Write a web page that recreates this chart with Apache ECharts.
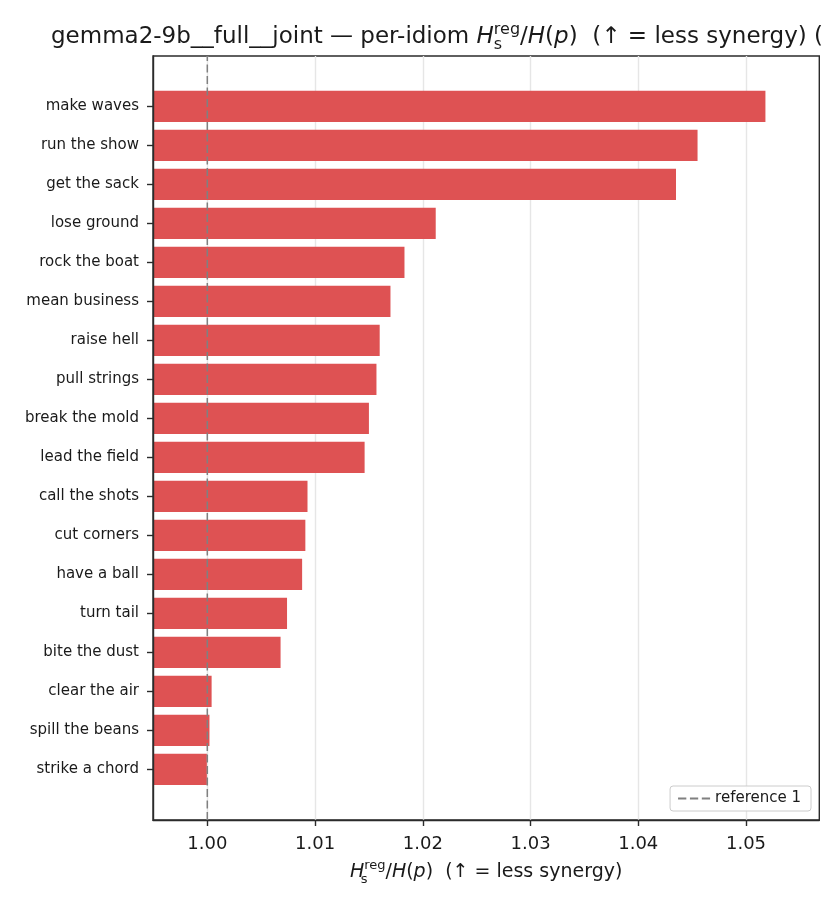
<!DOCTYPE html>
<html lang="en">
<head>
    <meta charset="UTF-8">
    <title>per-idiom synergy</title>
    <script src="https://cdn.jsdelivr.net/npm/echarts@6.0.0/dist/echarts.min.js"></script>
    <style>
        body { margin: 0; background: #fff; }
    </style>
</head>
<body>
    <div id="main" style="width: 840px;height:910px;"></div>
    <script type="text/javascript">
        const categories = ['make waves', 'run the show', 'get the sack', 'lose ground', 'rock the boat',
            'mean business', 'raise hell', 'pull strings', 'break the mold', 'lead the field',
            'call the shots', 'cut corners', 'have a ball', 'turn tail', 'bite the dust',
            'clear the air', 'spill the beans', 'strike a chord'];
        const values = [1.0518, 1.0455, 1.0435, 1.0212, 1.0183, 1.0170, 1.0160, 1.0157, 1.0150, 1.0146,
            1.0093, 1.0091, 1.0088, 1.0074, 1.0068, 1.0004, 1.0002, 0.99996];
        const xTicks = [1.00, 1.01, 1.02, 1.03, 1.04, 1.05];
        const refValue = 1;
        const xMin = 0.99496;
        const xMax = 1.0568;

        const font = 'DejaVu Sans';
        const ink = '#1a1a1a';
        const refColor = '#808080';

        // mathtext-ish pieces: H_s^reg / H(p)
        function mathRich(size) {
            const small = Math.round(size * 0.7);
            const base = { fontFamily: font, fontWeight: 'normal', color: ink };
            return {
                t: { ...base, fontSize: size, lineHeight: size + 8 },
                i: { ...base, fontSize: size, fontStyle: 'italic', lineHeight: size + 8 },
                sub: { ...base, fontSize: small, lineHeight: small + 1, verticalAlign: 'bottom', width: 0 },
                sup: { ...base, fontSize: small, lineHeight: small + 1, verticalAlign: 'top' }
            };
        }
        const ratioText = '{i|H}{sub|s}{sup|reg}{t|/}{i|H}{t|(}{i|p}{t|)}';

        let options = {
            animation: false,
            backgroundColor: '#ffffff',
            title: {
                text: '{t|gemma2-9b__full__joint — per-idiom }' + ratioText + '{t|  (↑ = less synergy) (}',
                left: 51,
                top: 22,
                padding: 0,
                textStyle: { fontWeight: 'normal', rich: mathRich(23) }
            },
            legend: {
                data: [{
                    name: 'reference 1',
                    icon: 'path://M0,0H8V2H0Z M11.5,0H19.5V2H11.5Z M23,0H31V2H23Z',
                    itemStyle: { color: refColor }
                }],
                right: 29,
                bottom: 99,
                orient: 'vertical',
                padding: [5, 10, 5, 8],
                itemWidth: 32,
                itemHeight: 14,
                borderColor: '#cccccc',
                borderWidth: 1,
                borderRadius: 3,
                backgroundColor: 'rgba(255,255,255,0.85)',
                textStyle: { fontFamily: font, fontSize: 15, color: ink }
            },
            grid: [
                { left: 153, right: 20.7, top: 56, bottom: 90, show: true, borderColor: '#2b2b2b', borderWidth: 1.4 },
                { left: 153, right: 20.7, top: 86.8, bottom: 121.2 }
            ],
            xAxis: [
                {
                    type: 'value',
                    gridIndex: 0,
                    min: xMin,
                    max: xMax,
                    axisLine: { show: true, lineStyle: { color: '#2b2b2b', width: 1.4 } },
                    axisTick: { show: true, length: 6, customValues: xTicks, lineStyle: { color: '#2b2b2b', width: 1.4 } },
                    axisLabel: {
                        customValues: xTicks,
                        formatter: (v) => v.toFixed(2),
                        fontFamily: font, fontSize: 18, color: ink, margin: 15
                    },
                    splitLine: { show: true, lineStyle: { color: '#e6e6e6', width: 1.4 } },
                    name: ratioText + '{t|  (↑ = less synergy)}',
                    nameLocation: 'middle',
                    nameGap: 39,
                    nameTextStyle: { rich: mathRich(19) }
                },
                {
                    type: 'value',
                    gridIndex: 1,
                    min: xMin,
                    max: xMax,
                    show: false
                }
            ],
            yAxis: [
                {
                    type: 'value',
                    gridIndex: 0,
                    min: 0,
                    max: 1,
                    z: 10,
                    axisLine: { show: true, lineStyle: { color: '#2b2b2b', width: 1.4 } },
                    axisTick: { show: false },
                    axisLabel: { show: false },
                    splitLine: { show: false }
                },
                {
                    type: 'category',
                    gridIndex: 1,
                    inverse: true,
                    data: categories,
                    axisLine: { show: false },
                    axisTick: { show: true, alignWithLabel: true, length: 6, lineStyle: { color: '#2b2b2b', width: 1.4 } },
                    axisLabel: { fontFamily: font, fontSize: 15, color: ink, margin: 14 },
                    splitLine: { show: false }
                }
            ],
            series: [
                {
                    name: 'per-idiom',
                    type: 'bar',
                    xAxisIndex: 1,
                    yAxisIndex: 1,
                    data: values,
                    barWidth: '80%',
                    itemStyle: { color: '#de5253' },
                    z: 2
                },
                {
                    name: 'reference 1',
                    type: 'line',
                    xAxisIndex: 0,
                    yAxisIndex: 0,
                    data: [[refValue, 0], [refValue, 1]],
                    symbol: 'none',
                    silent: true,
                    z: 5,
                    itemStyle: { color: refColor },
                    lineStyle: { color: refColor, width: 1.5, type: [8, 3.5] }
                }
            ]
        };

        let myChart = echarts.init(document.getElementById('main'));
        myChart.setOption(options);
    </script>
</body>
</html>
